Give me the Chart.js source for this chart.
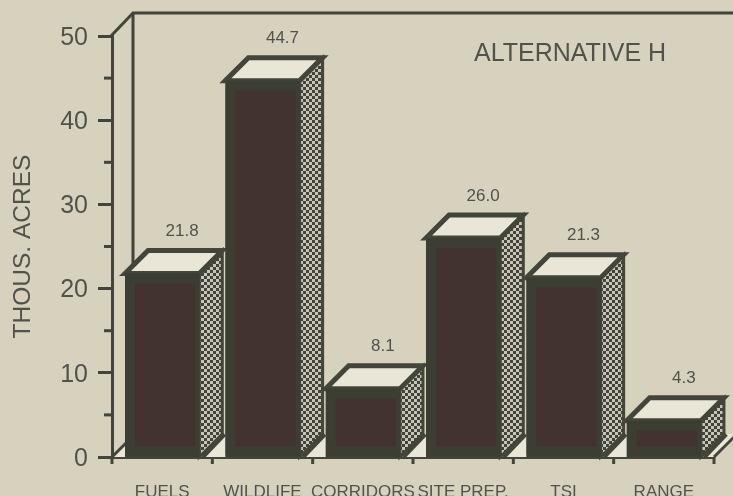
<!DOCTYPE html>
<html>
<head>
<meta charset="utf-8">
<title>Alternative H</title>
<script src="https://cdn.jsdelivr.net/npm/chart.js@4"></script>
<style>
  html, body { margin: 0; padding: 0; background: #d7d2bd; overflow: hidden; }
  canvas { display: block; }
</style>
</head>
<body>
<canvas id="chart" width="733" height="496"></canvas>
<script>
const categories = ['FUELS', 'WILDLIFE', 'CORRIDORS', 'SITE PREP.', 'TSI', 'RANGE'];
const acres = [21.8, 44.7, 8.1, 26.0, 21.3, 4.3];
const yTicks = [0, 10, 20, 30, 40, 50];
const minorTicks = [5, 15, 25, 35, 45];
const yTitle = 'THOUS. ACRES';
const panelTitle = 'ALTERNATIVE H';

const INK = '#43453a';
const TEXT = '#51534a';
const FACE = '#42332f';
const FRAME = '#3c3e34';
const LIGHT = '#e9e6d8';
const DEPTH = 23;

// Fine checker used on the shaded side of every column.
function checker(ctx) {
  const tile = document.createElement('canvas');
  tile.width = tile.height = 6;
  const t = tile.getContext('2d');
  t.fillStyle = '#c9c5b6';
  t.fillRect(0, 0, 6, 6);
  t.fillStyle = '#42433a';
  t.fillRect(0, 0, 3, 3);
  t.fillRect(3, 3, 3, 3);
  return ctx.createPattern(tile, 'repeat');
}

function poly(ctx, pts, fill, stroke, width) {
  ctx.beginPath();
  pts.forEach((p, i) => (i ? ctx.lineTo(p[0], p[1]) : ctx.moveTo(p[0], p[1])));
  ctx.closePath();
  if (fill) { ctx.fillStyle = fill; ctx.fill(); }
  if (stroke) { ctx.strokeStyle = stroke; ctx.lineWidth = width; ctx.lineJoin = 'miter'; ctx.stroke(); }
}

function line(ctx, x0, y0, x1, y1, width) {
  ctx.beginPath();
  ctx.moveTo(x0, y0);
  ctx.lineTo(x1, y1);
  ctx.strokeStyle = INK;
  ctx.lineWidth = width;
  ctx.stroke();
}

// Box frame, floor and the oblique faces of the columns, all placed from the chart scales.
const box3d = {
  id: 'box3d',
  beforeDatasetsDraw(chart) {
    const { ctx, chartArea: a, scales: { y } } = chart;
    const y0 = y.getPixelForValue(0);
    const yMax = y.getPixelForValue(50);
    ctx.save();

    // floor
    poly(ctx, [[a.left, y0], [a.right, y0], [a.right + DEPTH, y0 - DEPTH], [a.left + DEPTH, y0 - DEPTH]], LIGHT);

    // back wall edges
    line(ctx, a.left + DEPTH - 2, yMax - DEPTH, a.left + DEPTH - 2, y0 - DEPTH, 3);
    line(ctx, a.left + DEPTH - 3, yMax - DEPTH, 733, yMax - DEPTH, 3);
    line(ctx, a.left - 1, yMax, a.left + DEPTH - 2, yMax - DEPTH, 3);

    // open ends of the floor
    line(ctx, a.left, y0, a.left + DEPTH, y0 - DEPTH, 3);
    line(ctx, a.right, y0, a.right + DEPTH, y0 - DEPTH, 3);

    // marks below each category boundary
    const step = (a.right - a.left) / categories.length;
    for (let i = 0; i <= categories.length; i++) {
      const px = a.left + i * step;
      line(ctx, px, y0, px, y0 + 7, 3);
    }

    // minor marks on the value axis
    minorTicks.forEach(v => {
      const py = y.getPixelForValue(v);
      line(ctx, a.left - 8, py, a.left, py, 3);
    });

    // top and side of every column, plus a solid backing for its front
    const hatch = checker(ctx);
    chart.getDatasetMeta(0).data.forEach(bar => {
      const half = bar.width / 2;
      const r = bar.x + half;
      const l = bar.x - half;
      const t = bar.y;
      poly(ctx, [[r, t], [r + DEPTH, t - DEPTH], [r + DEPTH, y0 - DEPTH], [r, y0]], hatch, INK, 3);
      line(ctx, r + 3, y0, r + DEPTH + 2, y0 - DEPTH, 5);
      poly(ctx, [[l, t], [l + DEPTH, t - DEPTH], [r + DEPTH, t - DEPTH], [r, t]], LIGHT, INK, 5);
      ctx.fillStyle = FRAME;
      ctx.fillRect(l, t, r - l, y0 - t);
    });
    ctx.restore();
  },
  afterDatasetsDraw(chart) {
    const { ctx } = chart;
    ctx.save();
    ctx.fillStyle = TEXT;
    ctx.textAlign = 'center';
    ctx.textBaseline = 'middle';
    ctx.font = '17px "Liberation Sans"';
    chart.getDatasetMeta(0).data.forEach((bar, i) => {
      ctx.fillText(acres[i].toFixed(1), bar.x + 20, bar.y - DEPTH - 19);
    });
    ctx.font = '25px "Liberation Sans"';
    ctx.textAlign = 'left';
    ctx.fillText(panelTitle, 474, 54);
    ctx.restore();
  }
};

new Chart(document.getElementById('chart'), {
  type: 'bar',
  data: {
    labels: categories,
    datasets: [{
      data: acres,
      backgroundColor: FACE,
      borderColor: FRAME,
      borderWidth: { top: 10, left: 10, right: 4, bottom: 9 },
      borderSkipped: false,
      barPercentage: 0.74,
      categoryPercentage: 1
    }]
  },
  plugins: [box3d],
  options: {
    responsive: false,
    animation: false,
    layout: { padding: { left: 0, right: 19, top: 36, bottom: 0 } },
    plugins: { legend: { display: false }, tooltip: { enabled: false } },
    scales: {
      x: {
        grid: { display: false, drawTicks: false },
        border: { display: true, color: INK, width: 3 },
        ticks: {
          color: TEXT,
          font: { family: '"Liberation Sans"', size: 17 },
          autoSkip: false,
          maxRotation: 0,
          minRotation: 0,
          padding: 25
        },
        afterFit(scale) { scale.height = 39; }
      },
      y: {
        min: 0,
        max: 50,
        afterBuildTicks(scale) { scale.ticks = yTicks.map(value => ({ value })); },
        grid: { drawOnChartArea: false, color: INK, tickColor: INK, tickLength: 14, lineWidth: 3 },
        border: { display: true, color: INK, width: 3 },
        ticks: {
          color: TEXT,
          font: { family: '"Liberation Sans"', size: 25 },
          padding: 10,
          labelOffset: 2
        },
        title: {
          display: true,
          text: yTitle,
          color: TEXT,
          font: { family: '"Liberation Sans"', size: 24.5 },
          padding: { top: 9, bottom: 0 }
        },
        afterFit(scale) { scale.width = 112; }
      }
    }
  }
});
</script>
</body>
</html>
